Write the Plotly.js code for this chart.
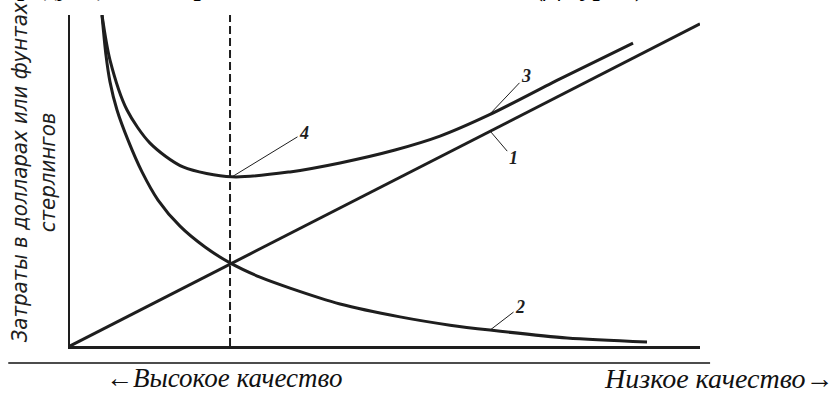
<!DOCTYPE html>
<html>
<head>
<meta charset="utf-8">
<script src="https://cdn.plot.ly/plotly-3.0.1.min.js"></script>
<style>
  html, body { margin: 0; padding: 0; background: #fff; }
  #chart { width: 837px; height: 394px; }
</style>
</head>
<body>
<div id="chart"></div>
<script>
// --- values (x: quality scale, y: cost), both 0..100 ---

// 1: straight cost line
const line1X = [0, 100];
const line1Y = [0, 97.3];

// 2: falling cost curve
const curve2X = [5.08, 5.71, 6.35, 7.46, 9.21, 11.43, 13.97, 17.46, 21.43, 25.4, 30.16, 34.92, 42.86, 52.38, 60.32, 66.67, 78.89, 91.59];
const curve2Y = [100, 87.9, 79.8, 71.3, 62.2, 52.6, 44.1, 36.2, 29.9, 25.1, 20.8, 17.5, 12.7, 8.8, 6.3, 4.8, 2.4, 1.2];

// 3: total cost curve (U-shaped)
const curve3X = [5.08, 6.35, 9.05, 12.7, 17.94, 25.71, 34.92, 42.86, 51.59, 58.73, 66.51, 77.78, 89.37];
const curve3Y = [100, 86.4, 71.3, 61.3, 54.1, 51.1, 52.6, 55.3, 59.2, 63.4, 69.8, 80.7, 91.5];

// 4: optimum (vertical dashed line)
const optimumX = [25.4, 25.4];
const optimumY = [0, 100];

// curve labels and the point each leader touches
const labelText = ['1', '2', '3', '4'];
const labelAtX = [66.7, 66.67, 66.51, 25.71];
const labelAtY = [64.9, 4.8, 69.8, 51.1];

const yTitle = 'Затраты в долларах или фунтах<br>стерлингов';
const leftNote = '←Высокое качество';
const rightNote = 'Низкое качество→';
const heading = 'продукции и затрат на обеспечение качества (Джуран)';

const ink = '#1e1e1e';

// --- traces ---
const curveStyle = { color: ink, width: 3 };

const line1Trace = {
    x: line1X, y: line1Y,
    mode: 'lines', type: 'scatter',
    line: curveStyle,
    hoverinfo: 'skip'
};
const curve2Trace = {
    x: curve2X, y: curve2Y,
    mode: 'lines', type: 'scatter',
    line: Object.assign({ shape: 'spline', smoothing: 0.8 }, curveStyle),
    hoverinfo: 'skip'
};
const curve3Trace = {
    x: curve3X, y: curve3Y,
    mode: 'lines', type: 'scatter',
    line: Object.assign({ shape: 'spline', smoothing: 0.8 }, curveStyle),
    hoverinfo: 'skip'
};
const optimumTrace = {
    x: optimumX, y: optimumY,
    mode: 'lines', type: 'scatter',
    line: { color: ink, width: 2, dash: '8px,4px' },
    hoverinfo: 'skip'
};

// pixel offsets from leader point to label (style, not data)
const labelOffsets = [[23, 27], [30, -23], [37, -39], [72, -44]];

const labelAnnotations = labelText.map((t, i) => ({
    x: labelAtX[i], y: labelAtY[i], xref: 'x', yref: 'y',
    text: t,
    showarrow: true, arrowhead: 0, arrowwidth: 1, arrowcolor: ink,
    ax: labelOffsets[i][0], ay: labelOffsets[i][1],
    standoff: 0,
    font: { family: 'Liberation Serif', size: 18, color: ink, style: 'italic', weight: 'bold' }
}));

const noteFont = { family: 'Liberation Serif', size: 27, color: '#111', style: 'italic' };

const layout = {
    width: 837, height: 394,
    margin: { l: 70, r: 137, t: 15, b: 48 },
    paper_bgcolor: '#fff', plot_bgcolor: '#fff',
    showlegend: false,
    xaxis: {
        range: [0, 100], showgrid: false, zeroline: false,
        showline: true, linecolor: ink, linewidth: 2.5,
        showticklabels: false, ticks: '', fixedrange: true
    },
    yaxis: {
        range: [0, 100], showgrid: false, zeroline: false,
        showline: true, linecolor: ink, linewidth: 2.5,
        showticklabels: false, ticks: '', fixedrange: true
    },
    shapes: [{
        type: 'line', xref: 'paper', yref: 'paper',
        x0: -0.098, x1: 1.016, y0: -0.051, y1: -0.051,
        line: { color: '#111', width: 1.5 }
    }],
    annotations: labelAnnotations.concat([
        {
            x: -0.058, y: 0.526, xref: 'paper', yref: 'paper',
            text: yTitle, showarrow: false, textangle: -90,
            xanchor: 'center', yanchor: 'middle',
            font: { family: 'DejaVu Sans Condensed', size: 22, color: ink, style: 'italic' }
        },
        {
            x: 0.244, y: -0.097, xref: 'paper', yref: 'paper',
            text: leftNote, showarrow: false,
            xanchor: 'center', yanchor: 'middle', font: noteFont
        },
        {
            x: 1.214, y: -0.097, xref: 'paper', yref: 'paper',
            text: rightNote, showarrow: false,
            xanchor: 'right', yanchor: 'middle', font: Object.assign({}, noteFont, { size: 28 })
        },
        {
            // heading of the page, cut off by the top edge in the scan
            x: -0.111, y: 1.082, xref: 'paper', yref: 'paper',
            text: heading, showarrow: false,
            xanchor: 'left', yanchor: 'middle',
            font: { family: 'Liberation Serif', size: 26, color: '#000', weight: 'bold' }
        }
    ])
};

Plotly.newPlot('chart', [line1Trace, curve2Trace, curve3Trace, optimumTrace], layout, {
    staticPlot: true, displayModeBar: false
});
</script>
</body>
</html>
